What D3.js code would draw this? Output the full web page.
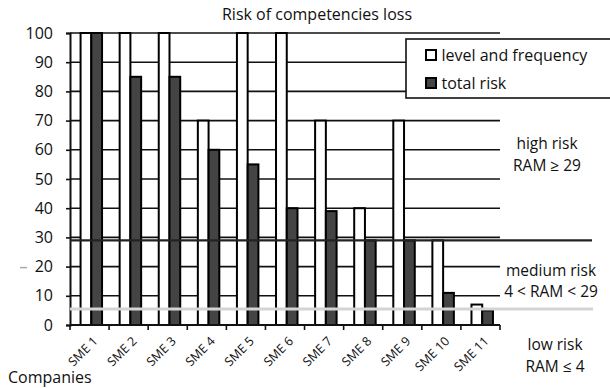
<!DOCTYPE html>
<html>
<head>
<meta charset="utf-8">
<script src="https://cdn.jsdelivr.net/npm/d3@7"></script>
<style>
  html, body { margin: 0; padding: 0; background: #fff; }
  svg { display: block; font-family: "Open Sans", sans-serif; }
</style>
</head>
<body>
<svg id="chart" width="610" height="388"></svg>
<script>
// Risk of competencies loss per company
const companies = ["SME 1", "SME 2", "SME 3", "SME 4", "SME 5", "SME 6",
                   "SME 7", "SME 8", "SME 9", "SME 10", "SME 11"];
const levelAndFrequency = [100, 100, 100, 70, 100, 100, 70, 40, 70, 29, 7];
const totalRisk = [100, 85, 85, 60, 55, 40, 39, 29, 29, 11, 5];
const seriesNames = ["level and frequency", "total risk"];
const yTicks = [0, 10, 20, 30, 40, 50, 60, 70, 80, 90, 100];
const highRiskBoundary = 29;
const lowRiskBoundary = 5.5;
const zoneLabels = [
  ["high risk", "RAM \u2265 29"],
  ["medium risk", "4 < RAM < 29"],
  ["low risk", "RAM \u2264 4"]
];

const svg = d3.select("#chart");
const plotLeft = 70, plotRight = 500, plotTop = 33, plotBottom = 325;

const x = d3.scaleBand().domain(companies).range([plotLeft, plotRight]).padding(0);
const sub = d3.scaleBand().domain(seriesNames).range([0, x.bandwidth()])
  .paddingInner(0).paddingOuter(0.82).align(0.6);
const y = d3.scaleLinear().domain([0, 100]).range([plotBottom, plotTop]);

const fills = { "level and frequency": "#ffffff", "total risk": "#444444" };
const ink = "#111";

// title
svg.append("text")
  .attr("x", 317).attr("y", 20)
  .attr("text-anchor", "middle")
  .attr("font-size", 16)
  .attr("fill", ink)
  .text("Risk of competencies loss");

// horizontal gridlines
svg.append("g").selectAll("line")
  .data(yTicks.filter(d => d > 0))
  .join("line")
  .attr("x1", plotLeft).attr("x2", plotRight)
  .attr("y1", d => y(d)).attr("y2", d => y(d))
  .attr("stroke", ink).attr("stroke-width", 1.6);

// y axis
const yAxis = svg.append("g")
  .attr("transform", `translate(${plotLeft},0)`)
  .call(d3.axisLeft(y).tickValues(yTicks).tickSize(4).tickPadding(13));
yAxis.select(".domain").attr("stroke", ink).attr("stroke-width", 2);
yAxis.selectAll(".tick line").attr("stroke", ink).attr("stroke-width", 1.6);
yAxis.selectAll(".tick text")
  .attr("font-size", 16).attr("font-family", "Open Sans").attr("fill", ink);

// bars
const groups = svg.append("g").selectAll("g")
  .data(companies.map((c, i) => ({ c, vals: [levelAndFrequency[i], totalRisk[i]] })))
  .join("g")
  .attr("transform", d => `translate(${x(d.c)},0)`);

groups.selectAll("rect")
  .data(d => d.vals.map((v, j) => ({ name: seriesNames[j], v })))
  .join("rect")
  .attr("x", d => sub(d.name))
  .attr("width", sub.bandwidth())
  .attr("y", d => y(d.v))
  .attr("height", d => y(0) - y(d.v))
  .attr("fill", d => fills[d.name])
  .attr("stroke", "#000")
  .attr("stroke-width", 2);

// x axis line with ticks on the category boundaries
svg.append("line")
  .attr("x1", plotLeft).attr("x2", plotRight)
  .attr("y1", plotBottom).attr("y2", plotBottom)
  .attr("stroke", ink).attr("stroke-width", 2);
svg.append("g").selectAll("line")
  .data(companies.map(c => x(c)).concat([plotRight]))
  .join("line")
  .attr("x1", d => d).attr("x2", d => d)
  .attr("y1", plotBottom).attr("y2", plotBottom + 5)
  .attr("stroke", ink).attr("stroke-width", 1.6);

// rotated category labels
svg.append("g").selectAll("text")
  .data(companies)
  .join("text")
  .attr("transform", d => `translate(${x(d) + x.bandwidth() / 2 + 9},${plotBottom + 17}) rotate(-45)`)
  .attr("text-anchor", "end")
  .attr("font-size", 12.5)
  .attr("fill", ink)
  .text(d => d);

// risk zone boundaries
svg.append("line")
  .attr("x1", plotLeft).attr("x2", 592)
  .attr("y1", y(highRiskBoundary)).attr("y2", y(highRiskBoundary))
  .attr("stroke", "#222").attr("stroke-width", 2.2);
svg.append("line")
  .attr("x1", plotLeft).attr("x2", 593)
  .attr("y1", y(lowRiskBoundary)).attr("y2", y(lowRiskBoundary))
  .attr("stroke", "#d4d4d4").attr("stroke-width", 3);

// small stray tick beside the axis labels
svg.append("line")
  .attr("x1", 20).attr("x2", 27)
  .attr("y1", y(20) + 1).attr("y2", y(20) + 1)
  .attr("stroke", "#aaa").attr("stroke-width", 1.5);

// zone annotations
const zoneY = [[143, 165], [270, 291], [344, 366]];
const zoneX = [547, 551, 555];
zoneLabels.forEach((lines, i) => {
  lines.forEach((t, k) => {
    svg.append("text")
      .attr("x", zoneX[i]).attr("y", zoneY[i][k] + 5.5)
      .attr("text-anchor", "middle")
      .attr("font-size", 15.5)
      .attr("fill", ink)
      .text(t);
  });
});

// axis title
svg.append("text")
  .attr("x", 8).attr("y", 383)
  .attr("font-size", 16)
  .attr("fill", ink)
  .text("Companies");

// legend
const legend = svg.append("g").attr("transform", "translate(406,39)");
legend.append("rect")
  .attr("width", 210).attr("height", 59)
  .attr("fill", "#fff").attr("stroke", ink).attr("stroke-width", 1.6);
seriesNames.forEach((name, i) => {
  legend.append("rect")
    .attr("x", 20).attr("y", 11 + i * 28)
    .attr("width", 10).attr("height", 10)
    .attr("fill", fills[name]).attr("stroke", "#000").attr("stroke-width", 2);
  legend.append("text")
    .attr("x", 35.5).attr("y", 21.5 + i * 28)
    .attr("font-size", 16)
    .attr("fill", ink)
    .text(name);
});
</script>
</body>
</html>
